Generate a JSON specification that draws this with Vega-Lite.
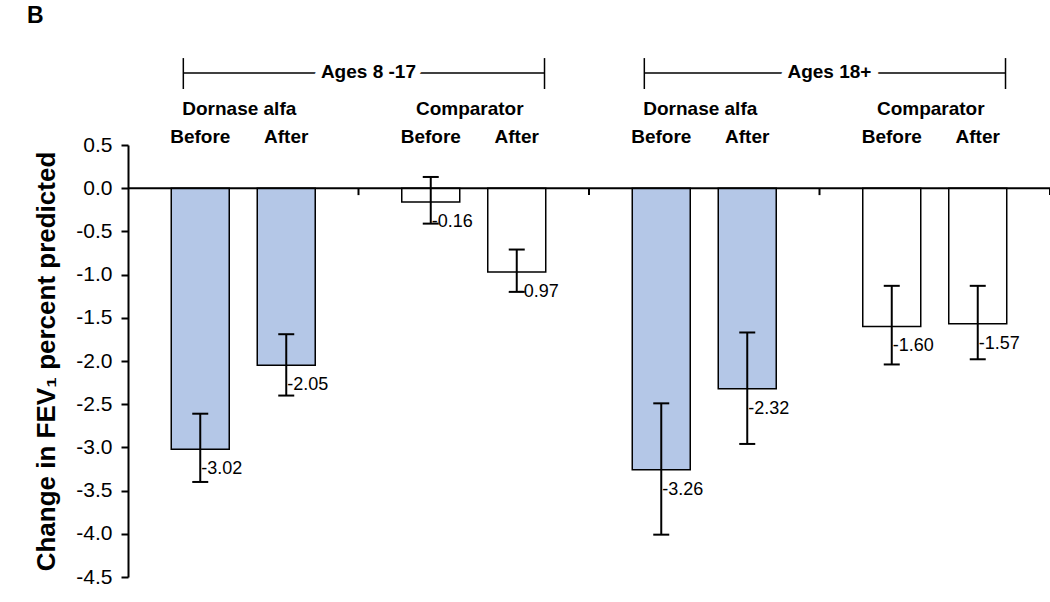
{
  "$schema": "https://vega.github.io/schema/vega-lite/v6.json",
  "width": 922,
  "height": 432,
  "autosize": {"type": "none"},
  "padding": {"left": 128, "top": 145, "right": 0, "bottom": 25},
  "background": "white",
  "title": {"text": "B", "anchor": "start", "frame": "group", "dx": -101, "offset": 29, "fontSize": 23, "fontWeight": "bold", "font": "Liberation Sans", "color": "black"},
  "datasets": {
    "bars": [
      {"group": "8-17 Dornase alfa", "treatment": "Dornase alfa", "period": "Before", "value": -3.02, "lo": -3.40, "hi": -2.61},
      {"group": "8-17 Dornase alfa", "treatment": "Dornase alfa", "period": "After", "value": -2.05, "lo": -2.40, "hi": -1.69},
      {"group": "8-17 Comparator", "treatment": "Comparator", "period": "Before", "value": -0.16, "lo": -0.41, "hi": 0.13},
      {"group": "8-17 Comparator", "treatment": "Comparator", "period": "After", "value": -0.97, "lo": -1.20, "hi": -0.71},
      {"group": "18+ Dornase alfa", "treatment": "Dornase alfa", "period": "Before", "value": -3.26, "lo": -4.01, "hi": -2.49},
      {"group": "18+ Dornase alfa", "treatment": "Dornase alfa", "period": "After", "value": -2.32, "lo": -2.96, "hi": -1.67},
      {"group": "18+ Comparator", "treatment": "Comparator", "period": "Before", "value": -1.60, "lo": -2.04, "hi": -1.13},
      {"group": "18+ Comparator", "treatment": "Comparator", "period": "After", "value": -1.57, "lo": -1.98, "hi": -1.13}
    ],
    "groups": [
      {"group": "8-17 Dornase alfa", "treatment": "Dornase alfa"},
      {"group": "8-17 Comparator", "treatment": "Comparator"},
      {"group": "18+ Dornase alfa", "treatment": "Dornase alfa"},
      {"group": "18+ Comparator", "treatment": "Comparator"}
    ],
    "brackets": [
      {"label": "Ages 8 -17", "from": "8-17 Dornase alfa", "to": "8-17 Comparator"},
      {"label": "Ages 18+", "from": "18+ Dornase alfa", "to": "18+ Comparator"}
    ]
  },
  "layer": [
    {
      "data": {"name": "bars"},
      "mark": {"type": "bar", "stroke": "black", "strokeWidth": 1.5},
      "encoding": {
        "x": {"field": "group", "type": "nominal", "axis": null, "sort": null,
              "scale": {"domain": ["8-17 Dornase alfa", "8-17 Comparator", "18+ Dornase alfa", "18+ Comparator"], "paddingInner": 0, "paddingOuter": 0}},
        "xOffset": {"field": "period", "type": "nominal", "sort": null,
                    "scale": {"domain": ["Before", "After"], "paddingInner": 0.3256, "paddingOuter": 0.503}},
        "y": {"field": "value", "type": "quantitative",
              "scale": {"domain": [-4.5, 0.5], "nice": false, "zero": false},
              "axis": {"values": [0.5, 0, -0.5, -1, -1.5, -2, -2.5, -3, -3.5, -4, -4.5],
                       "format": ".1f", "grid": false,
                       "domainColor": "black", "domainWidth": 2,
                       "tickColor": "black", "tickWidth": 2, "tickSize": 7,
                       "labelFont": "Liberation Sans", "labelFontSize": 21, "labelColor": "black", "labelPadding": 9,
                       "title": "Change in FEV₁ percent predicted",
                       "titleFont": "Liberation Sans", "titleFontSize": 26, "titleFontWeight": "bold", "titleColor": "black", "titlePadding": 16}},
        "fill": {"field": "treatment", "type": "nominal", "legend": null,
                 "scale": {"domain": ["Dornase alfa", "Comparator"], "range": ["#B4C7E7", "#FFFFFF"]}}
      }
    },
    {
      "data": {"values": [{}]},
      "mark": {"type": "rule", "stroke": "black", "strokeWidth": 2},
      "encoding": {"y": {"datum": 0, "type": "quantitative"}}
    },
    {
      "data": {"name": "groups"},
      "mark": {"type": "rule", "stroke": "black", "strokeWidth": 2},
      "encoding": {
        "x": {"field": "group", "type": "nominal", "axis": null, "bandPosition": 1},
        "y": {"datum": 0, "type": "quantitative"},
        "y2": {"datum": -0.08}
      }
    },
    {
      "data": {"name": "bars"},
      "mark": {"type": "rule", "stroke": "black", "strokeWidth": 2},
      "encoding": {
        "x": {"field": "group", "type": "nominal", "axis": null},
        "xOffset": {"field": "period", "type": "nominal"},
        "y": {"field": "lo", "type": "quantitative"},
        "y2": {"field": "hi"}
      }
    },
    {
      "data": {"name": "bars"},
      "mark": {"type": "tick", "orient": "horizontal", "color": "black", "opacity": 1, "size": 16, "thickness": 2},
      "encoding": {
        "x": {"field": "group", "type": "nominal", "axis": null},
        "xOffset": {"field": "period", "type": "nominal"},
        "y": {"field": "lo", "type": "quantitative"}
      }
    },
    {
      "data": {"name": "bars"},
      "mark": {"type": "tick", "orient": "horizontal", "color": "black", "opacity": 1, "size": 16, "thickness": 2},
      "encoding": {
        "x": {"field": "group", "type": "nominal", "axis": null},
        "xOffset": {"field": "period", "type": "nominal"},
        "y": {"field": "hi", "type": "quantitative"}
      }
    },
    {
      "data": {"name": "bars"},
      "mark": {"type": "text", "align": "left", "baseline": "middle", "dx": 1, "dy": 20, "font": "Liberation Sans", "fontSize": 18, "color": "black"},
      "encoding": {
        "x": {"field": "group", "type": "nominal", "axis": null},
        "xOffset": {"field": "period", "type": "nominal"},
        "y": {"field": "value", "type": "quantitative"},
        "text": {"field": "value", "type": "quantitative", "format": ".2f"}
      }
    },
    {
      "data": {"name": "bars"},
      "mark": {"type": "text", "align": "center", "baseline": "alphabetic", "font": "Liberation Sans", "fontSize": 19, "fontWeight": "bold", "color": "black"},
      "encoding": {
        "x": {"field": "group", "type": "nominal", "axis": null},
        "xOffset": {"field": "period", "type": "nominal"},
        "y": {"datum": 0.52, "type": "quantitative"},
        "text": {"field": "period", "type": "nominal"}
      }
    },
    {
      "data": {"name": "groups"},
      "mark": {"type": "text", "align": "center", "baseline": "alphabetic", "dx": -4, "font": "Liberation Sans", "fontSize": 19, "fontWeight": "bold", "color": "black"},
      "encoding": {
        "x": {"field": "group", "type": "nominal", "axis": null},
        "y": {"datum": 0.847, "type": "quantitative"},
        "text": {"field": "treatment", "type": "nominal"}
      }
    },
    {
      "data": {"name": "brackets"},
      "mark": {"type": "rule", "stroke": "black", "strokeWidth": 1.5},
      "encoding": {
        "x": {"field": "from", "type": "nominal", "axis": null, "bandPosition": 0.24},
        "y": {"datum": 1.506, "type": "quantitative"},
        "y2": {"datum": 1.148}
      }
    },
    {
      "data": {"name": "brackets"},
      "mark": {"type": "rule", "stroke": "black", "strokeWidth": 1.5},
      "encoding": {
        "x": {"field": "to", "type": "nominal", "axis": null, "bandPosition": 0.807},
        "y": {"datum": 1.506, "type": "quantitative"},
        "y2": {"datum": 1.148}
      }
    },
    {
      "data": {"name": "brackets"},
      "mark": {"type": "rule", "stroke": "black", "strokeWidth": 1.5},
      "encoding": {
        "x": {"field": "from", "type": "nominal", "axis": null, "bandPosition": 0.24},
        "x2": {"field": "to", "bandPosition": 0.807},
        "y": {"datum": 1.333, "type": "quantitative"}
      }
    },
    {
      "data": {"name": "brackets"},
      "mark": {"type": "text", "align": "center", "baseline": "alphabetic", "font": "Liberation Sans", "fontSize": 19, "fontWeight": "bold", "fill": "white", "stroke": "white", "strokeWidth": 15},
      "encoding": {
        "x": {"field": "to", "type": "nominal", "axis": null, "bandPosition": 0.043},
        "y": {"datum": 1.278, "type": "quantitative"},
        "text": {"field": "label", "type": "nominal"}
      }
    },
    {
      "data": {"name": "brackets"},
      "mark": {"type": "text", "align": "center", "baseline": "alphabetic", "font": "Liberation Sans", "fontSize": 19, "fontWeight": "bold", "color": "black"},
      "encoding": {
        "x": {"field": "to", "type": "nominal", "axis": null, "bandPosition": 0.043},
        "y": {"datum": 1.278, "type": "quantitative"},
        "text": {"field": "label", "type": "nominal"}
      }
    }
  ],
  "config": {
    "view": {"stroke": null},
    "font": "Liberation Sans",
    "locale": {"number": {"decimal": ".", "thousands": ",", "grouping": [3], "currency": ["$", ""], "minus": "-"}}
  }
}
